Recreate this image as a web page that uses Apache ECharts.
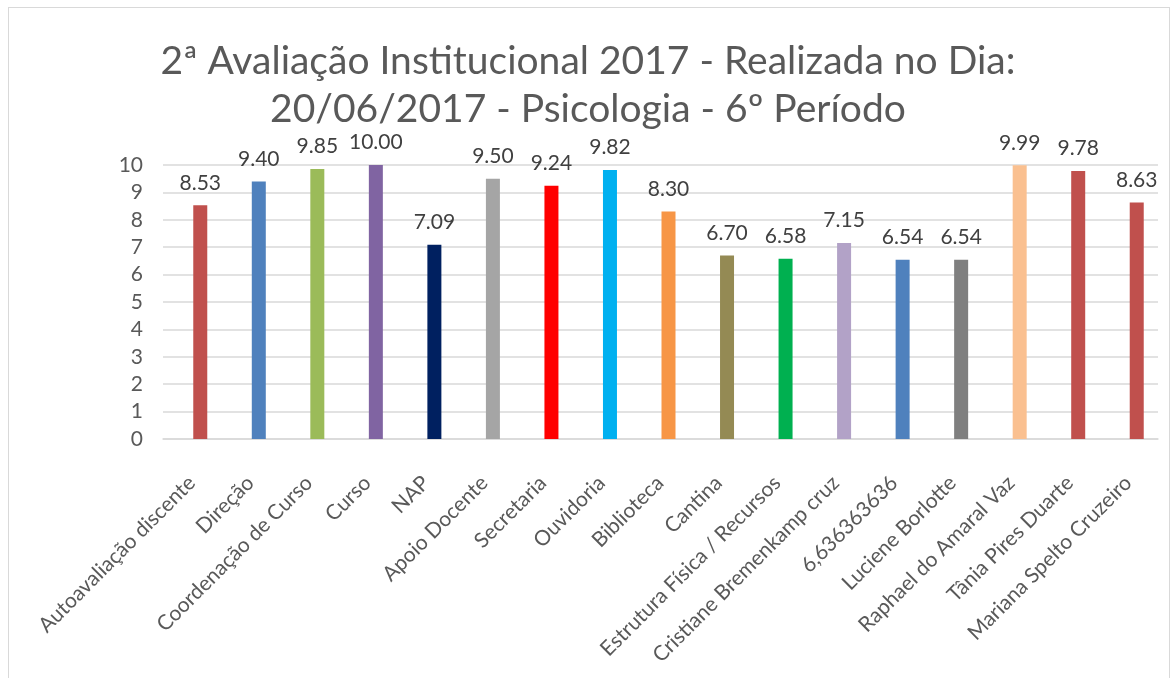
<!DOCTYPE html>
<html>
<head>
<meta charset="utf-8">
<script src="https://cdn.jsdelivr.net/npm/echarts@6/dist/echarts.min.js"></script>
<style>
  html, body { margin: 0; padding: 0; background: #fff; }
  #main { width: 1176px; height: 678px; }
  #frame { position: absolute; left: 8px; top: 7px; width: 1162px; height: 680px; border: 1px solid #d9d9d9; box-sizing: border-box; pointer-events: none; }
</style>
</head>
<body>
<div id="main"></div>
<div id="frame"></div>
<script>
// categorias, notas e cores das barras
var categorias = ['Autoavaliação discente', 'Direção', 'Coordenação de Curso', 'Curso', 'NAP',
    'Apoio Docente', 'Secretaria', 'Ouvidoria', 'Biblioteca', 'Cantina',
    'Estrutura Física / Recursos', 'Cristiane Bremenkamp cruz', '6,636363636', 'Luciene Borlotte',
    'Raphael do Amaral Vaz', 'Tânia Pires Duarte', 'Mariana Spelto Cruzeiro'];
var notas = [8.53, 9.40, 9.85, 10.00, 7.09, 9.50, 9.24, 9.82, 8.30, 6.70, 6.58, 7.15, 6.54, 6.54, 9.99, 9.78, 8.63];
var cores = ['#C0504D', '#4F81BD', '#9BBB59', '#8064A2', '#002060', '#A5A5A5', '#FF0000', '#00B0F0', '#F79646',
    '#948A54', '#00B050', '#B2A2C7', '#4F81BD', '#7F7F7F', '#FAC090', '#C0504D', '#C0504D'];
var titulo = '2ª Avaliação Institucional 2017 - Realizada no Dia:\n20/06/2017 - Psicologia - 6º Período';

var dom = document.getElementById("main");
var myChart = echarts.init(dom);
var fonte = 'Lato, "Open Sans", sans-serif';

// grid 0: eixo y e linhas de grade; grid 1: barras (deslocadas como no Excel)
var option = {
    animation: false,
    title: {
        text: titulo,
        left: 'center',
        top: 32,
        padding: [5, 5, 5, 25],
        textStyle: {
            fontFamily: fonte,
            fontSize: 39,
            fontWeight: 'normal',
            color: '#595959',
            lineHeight: 48
        }
    },
    grid: [
        { left: 163, right: 18, top: 165, bottom: 239 },
        { left: 171, right: 10, top: 165, bottom: 239 }
    ],
    xAxis: [{
        type: 'category',
        gridIndex: 0,
        data: categorias,
        axisLine: { lineStyle: { color: '#d9d9d9', width: 1.5 } },
        axisTick: { show: false },
        axisLabel: { show: false }
    }, {
        type: 'category',
        gridIndex: 1,
        data: categorias,
        axisLine: { show: false },
        axisTick: { show: false },
        axisLabel: {
            interval: 0,
            rotate: 45,
            margin: 32,
            padding: [0, 12, 0, 0],
            fontFamily: fonte,
            fontSize: 21,
            color: '#595959'
        }
    }],
    yAxis: [{
        type: 'value',
        gridIndex: 0,
        min: 0,
        max: 10,
        interval: 1,
        axisLine: { show: false },
        axisTick: { show: false },
        axisLabel: {
            margin: 20,
            fontFamily: fonte,
            fontSize: 21,
            color: '#595959'
        },
        splitLine: { lineStyle: { color: '#d9d9d9', width: 1.5 } }
    }, {
        type: 'value',
        gridIndex: 1,
        min: 0,
        max: 10,
        interval: 1,
        show: false
    }],
    series: [{
        type: 'bar',
        xAxisIndex: 1,
        yAxisIndex: 1,
        barWidth: 14,
        data: notas.map(function (v, i) {
            return { value: v, itemStyle: { color: cores[i] } };
        }),
        label: {
            show: true,
            position: 'top',
            distance: 12,
            fontFamily: fonte,
            fontSize: 21,
            color: '#404040',
            formatter: function (p) { return p.value.toFixed(2); }
        }
    }]
};

if (option && typeof option === "object") {
    myChart.setOption(option, true);
}
</script>
</body>
</html>
